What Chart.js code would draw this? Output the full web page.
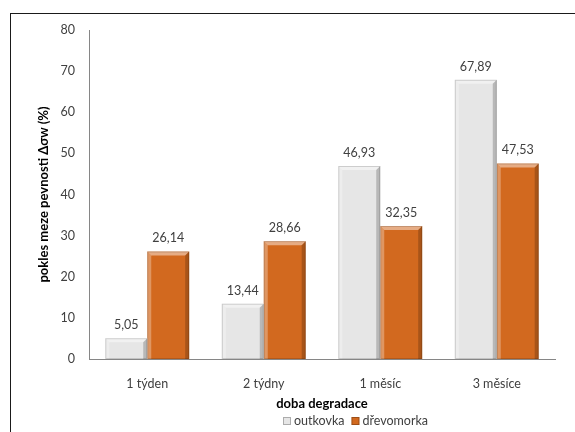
<!DOCTYPE html>
<html>
<head>
<meta charset="utf-8">
<script src="https://cdn.jsdelivr.net/npm/chart.js@4.4.1/dist/chart.umd.min.js"></script>
<style>
  html, body { margin: 0; padding: 0; background: #ffffff; }
  #wrap { width: 575px; height: 432px; }
</style>
</head>
<body>
<div id="wrap"><canvas id="c" width="575" height="432"></canvas></div>
<script>
// Degradation period categories and strength loss per fungus (%)
const categories = ['1 týden', '2 týdny', '1 měsíc', '3 měsíce'];
const seriesNames = ['outkovka', 'dřevomorka'];
const outkovka = [5.05, 13.44, 46.93, 67.89];
const drevomorka = [26.14, 28.66, 32.35, 47.53];
const yTicks = [0, 10, 20, 30, 40, 50, 60, 70, 80];

const FONT = 'Lato, "Open Sans", sans-serif';
const TEXT = '#404040';
const fills = ['#e6e6e6', '#d2691f'];

// Bevelled edges on each bar for the raised look
const bevel = {
  id: 'bevel',
  afterDatasetsDraw(chart) {
    const ctx = chart.ctx;
    chart.data.datasets.forEach((ds, di) => {
      chart.getDatasetMeta(di).data.forEach(bar => {
        const l = bar.x - bar.width / 2, r = bar.x + bar.width / 2;
        const t = bar.y, b = bar.base;
        const s = Math.min(4, (b - t) / 2);
        ctx.save();
        // top highlight
        ctx.fillStyle = 'rgba(255,255,255,0.45)';
        ctx.beginPath();
        ctx.moveTo(l, t); ctx.lineTo(r, t); ctx.lineTo(r - s, t + s); ctx.lineTo(l + s, t + s); ctx.closePath();
        ctx.fill();
        // left highlight
        ctx.fillStyle = 'rgba(255,255,255,0.3)';
        ctx.beginPath();
        ctx.moveTo(l, t); ctx.lineTo(l + s, t + s); ctx.lineTo(l + s, b); ctx.lineTo(l, b); ctx.closePath();
        ctx.fill();
        // right shade
        ctx.fillStyle = 'rgba(0,0,0,0.2)';
        ctx.beginPath();
        ctx.moveTo(r, t); ctx.lineTo(r, b); ctx.lineTo(r - s, b); ctx.lineTo(r - s, t + s); ctx.closePath();
        ctx.fill();
        ctx.strokeStyle = 'rgba(0,0,0,0.15)';
        ctx.lineWidth = 1;
        ctx.strokeRect(l + 0.5, t + 0.5, bar.width - 1, b - t - 1);
        ctx.restore();
      });
    });
  }
};

// Value labels above bars, decimal comma
const valueLabels = {
  id: 'valueLabels',
  afterDatasetsDraw(chart) {
    const ctx = chart.ctx;
    ctx.save();
    ctx.font = '12.5px ' + FONT;
    ctx.fillStyle = TEXT;
    ctx.textAlign = 'center';
    ctx.textBaseline = 'bottom';
    chart.data.datasets.forEach((ds, di) => {
      chart.getDatasetMeta(di).data.forEach((bar, i) => {
        ctx.fillText(ds.data[i].toFixed(2).replace('.', ','), bar.x, bar.y - 7);
      });
    });
    ctx.restore();
  }
};

// Legend row under the axis title
const bottomLegend = {
  id: 'bottomLegend',
  afterDraw(chart) {
    const ctx = chart.ctx;
    ctx.save();
    ctx.font = '12.5px ' + FONT;
    ctx.textBaseline = 'middle';
    const y = 421;
    let x = 283;
    chart.data.datasets.forEach((ds, di) => {
      ctx.fillStyle = ds.backgroundColor;
      ctx.fillRect(x, y - 4, 8, 8);
      ctx.strokeStyle = 'rgba(0,0,0,0.25)';
      ctx.strokeRect(x + 0.5, y - 3.5, 7, 7);
      ctx.fillStyle = TEXT;
      ctx.textAlign = 'left';
      ctx.fillText(ds.label, x + 11, y);
      x += 11 + ctx.measureText(ds.label).width + 7;
    });
    ctx.restore();
  }
};

// Outer frame of the chart
const frame = {
  id: 'frame',
  beforeDraw(chart) {
    const ctx = chart.ctx;
    ctx.save();
    ctx.strokeStyle = '#1a1a1a';
    ctx.lineWidth = 1;
    ctx.strokeRect(10.5, 13.5, 700, 600);
    ctx.restore();
  }
};

new Chart(document.getElementById('c'), {
  type: 'bar',
  data: {
    labels: categories,
    datasets: [
      { label: seriesNames[0], data: outkovka, backgroundColor: fills[0] },
      { label: seriesNames[1], data: drevomorka, backgroundColor: fills[1] }
    ]
  },
  options: {
    responsive: false,
    animation: false,
    devicePixelRatio: 1,
    categoryPercentage: 0.72,
    barPercentage: 1,
    layout: { padding: { left: 27, right: 20, top: 30, bottom: 20 } },
    plugins: {
      legend: { display: false },
      tooltip: { enabled: false }
    },
    scales: {
      x: {
        grid: { display: false, drawTicks: false },
        border: { display: true, color: '#868686' },
        ticks: { color: TEXT, font: { family: FONT, size: 12.5 }, padding: 17 },
        title: { display: true, text: 'doba degradace', color: '#000', font: { family: FONT, size: 13, weight: 'bold' }, padding: { top: 0, bottom: 0 } },
        afterFit(scale) { scale.height = 53; }
      },
      y: {
        min: 0, max: 80,
        afterBuildTicks(scale) { scale.ticks = yTicks.map(v => ({ value: v })); },
        grid: { display: false, drawTicks: false },
        border: { display: true, color: '#868686' },
        ticks: { color: TEXT, font: { family: FONT, size: 12.5 }, padding: 14 },
        title: { display: true, text: 'pokles meze pevnosti Δσw (%)', color: '#000', font: { family: FONT, size: 13, weight: 'bold' }, padding: { top: 9, bottom: 0 } },
        afterFit(scale) { scale.width = 62; }
      }
    }
  },
  plugins: [frame, bevel, valueLabels, bottomLegend]
});
</script>
</body>
</html>
